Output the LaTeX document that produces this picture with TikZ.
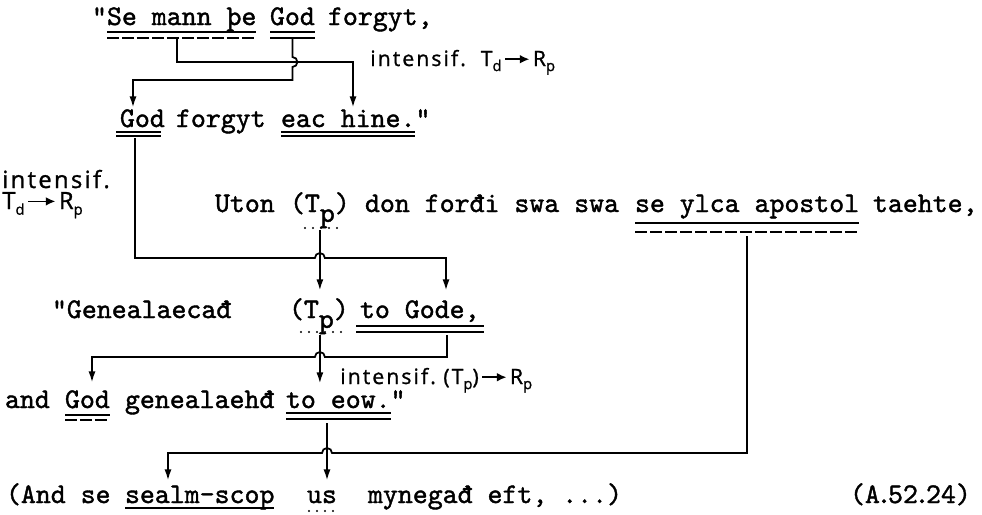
\documentclass[tikz,border=0pt]{standalone}
\usepackage{fontspec}
\newfontfamily\typefont{lmmono10-regular}[Extension=.otf, FakeBold=1.4]
\newfontfamily\handfont{Open Sans}[LetterSpace=10, FakeBold=1.2]
\usetikzlibrary{arrows.meta, calc}
\newcommand{\Tp}{(T\raisebox{-0.8ex}{p})}
\newcommand{\lowsub}[1]{\raisebox{-0.45ex}{\fontsize{8.5}{9}\selectfont #1}}
\newcommand{\harr}{\kern1.5pt\tikz[baseline=-0.6ex]\draw[line width=1pt,-{Latex[length=5.5pt,width=5pt]}] (0,0) -- (1.15em,0);\kern1.5pt}
\newcommand{\tdot}{\kern-0.12em.\kern-0.12em}

\begin{document}
\begin{tikzpicture}[
        x=0.02cm, y=-0.02cm,
        word/.style={font=\typefont\fontsize{16.2}{19}\selectfont, anchor=base west,
                     inner sep=0pt, outer sep=0pt, text height=10pt, text depth=3.5pt},
        hand/.style={font=\handfont\fontsize{12}{14}\selectfont, anchor=base west, inner sep=0pt},
        bighand/.style={hand, font=\handfont\fontsize{13.5}{15}\selectfont},
        arr/.style={line width=1pt, -{Latex[length=0.22cm,width=0.14cm]}},
        ul/.style={line width=0.8pt},
        uldash/.style={line width=0.8pt, dash pattern=on 0.24cm off 0.06cm},
        uldot/.style={line width=1.3pt, line cap=round, dash pattern=on 0pt off 0.16cm},
      ]
        \useasboundingbox (0,0) rectangle (982,514);

        % quoted sentence
        \node[word] (q1) at (92,25) {"};
        \node[word] (semann) at (107,25) {Se mann þe};
        \node[word] (god1) at (270,25) {God};
        \node[word] (forgyt1) at (328,25) {forgyt,};
        \node[word] (god2) at (120,127) {God};
        \node[word] (forgyt2) at (176,127) {forgyt};
        \node[word] (eachine) at (281,127) {eac hine.};
        \node[word] (q2) at (eachine.base east) {"};

        % main clause
        \node[word] (uton) at (215,212) {Uton};
        \node[word] (tp1) at (290,212) {\Tp};
        \node[word] (fordi) at (365,212) {don forđi swa swa};
        \node[word] (seylca) at (635,212) {se ylca apostol};
        \node[word] (taehte) at (873,212) {taehte,};

        % second quotation
        \node[word] (geneal) at (52,318) {"Genealaecađ};
        \node[word] (tp2) at (289,318) {\Tp};
        \node[word] (togode) at (360,318) {to Gode,};
        \node[word] (and5) at (5,408) {and};
        \node[word] (god5) at (65,408) {God};
        \node[word] (geneal5) at (125,408) {genealaehđ};
        \node[word] (toeow) at (286,408) {to eow.};
        \node[word] (q5) at (toeow.base east) {"};

        % last line
        \node[word] (andse) at (6,503) {(And se};
        \node[word] (sealm) at (125,503) {sealm-scop};
        \node[word] (us) at (307,503) {us};
        \node[word] (mynegad) at (368,503) {mynegađ eft, ...)};
        \node[word] (ref) at (850,503) {(A\tdot 52\tdot 24)};

        % handwritten notes
        \node[hand] (lbltop) at (370,66) {intensif.\hspace{0.3cm}T\lowsub{d}\harr R\lowsub{p}};
        \node[bighand] (lblleft) at (2,188) {intensif.};
        \node[bighand] (lblleft2) at (2,209) {T\lowsub{d}\harr R\lowsub{p}};
        \node[hand] (lbllow) at (340,384) {intensif.\hspace{0.15cm}(T\lowsub{p})\harr R\lowsub{p}};

        % underlines
        \draw[ul] ($(semann.base west)+(0,7)$) -- ($(semann.base east)+(0,7)$);
        \draw[uldash] ($(semann.base west)+(0,13)$) -- ($(semann.base east)+(0,13)$);
        \draw[ul] ($(god1.base west)+(0,7)$) -- ($(god1.base east)+(0,7)$);
        \draw[ul] ($(god1.base west)+(0,13)$) -- ($(god1.base east)+(0,13)$);
        \draw[ul] ($(god2.base west)+(-4,5)$) -- ($(god2.base east)+(-4,5)$);
        \draw[ul] ($(god2.base west)+(-4,9)$) -- ($(god2.base east)+(-4,9)$);
        \draw[ul] ($(eachine.base west)+(0,5)$) -- ($(eachine.base east)+(0,5)$);
        \draw[ul] ($(eachine.base west)+(0,9)$) -- ($(eachine.base east)+(0,9)$);
        \draw[uldot] ($(tp1.base west)+(15,16)$) -- ($(tp1.base east)+(-5,16)$);
        \draw[ul] ($(seylca.base west)+(0,11)$) -- ($(seylca.base east)+(0,11)$);
        \draw[uldash] ($(seylca.base west)+(0,20)$) -- ($(seylca.base east)+(0,20)$);
        \draw[uldot] ($(tp2.base west)+(12,14)$) -- ($(tp2.base east)+(-6,14)$);
        \draw[ul] ($(togode.base west)+(-4,8)$) -- ($(togode.base east)+(4,8)$);
        \draw[ul] ($(togode.base west)+(-4,14)$) -- ($(togode.base east)+(4,14)$);
        \draw[ul] ($(god5.base west)+(0,7)$) -- ($(god5.base east)+(0,7)$);
        \draw[uldash] ($(god5.base west)+(0,12)$) -- ($(god5.base east)+(0,12)$);
        \draw[ul] ($(toeow.base west)+(0,5)$) -- ($(toeow.base east)+(0,5)$);
        \draw[ul] ($(toeow.base west)+(0,11)$) -- ($(toeow.base east)+(0,11)$);
        \draw[ul] ($(sealm.base west)+(0,5)$) -- ($(sealm.base east)+(0,5)$);
        \draw[uldot] ($(us.base west)+(2,8)$) -- ($(us.base east)+(0,8)$);

        % connectors
        \draw[arr] ($(semann.base west)+(70,14)$) -- ($(semann.base west)+(70,37)$)
            -| ($(eachine.north west)+(72,-2)$);
        \draw[arr] ($(god1.base)+(0,14)$) -- ($(god1.base)+(0,32)$)
            arc[start angle=90, end angle=-90, radius=0.1cm]
            -- ($(god1.base)+(0,55)$) -| ($(god2.north west)+(13,-2)$);
        \draw[arr] ($(god2.base west)+(15,11)$) |- ($(tp1.base)+(-5,46)$)
            arc[start angle=180, end angle=0, radius=0.1cm]
            -| ($(togode.north west)+(86,-10)$);
        \draw[arr] ($(tp1.base)+(0,18)$) -- ($(tp1.base |- tp2.north)+(0,-10)$);
        \draw[arr] ($(tp1.base |- tp2.base)+(0,17)$) -- ($(tp1.base |- toeow.north)+(0,-7)$);
        \draw[arr] ($(togode.base west)+(87,17)$) |- ($(tp1.base |- tp2.base)+(5,39)$)
            arc[start angle=0, end angle=180, radius=0.1cm]
            -| ($(god5.north west)+(27,-8)$);
        \draw[arr] ($(seylca.base)+(0,24)$) |- ($(toeow.base west)+(46,45)$)
            arc[start angle=0, end angle=180, radius=0.1cm]
            -| ($(sealm.north west)+(43,-5)$);
        \draw[arr] ($(toeow.base west)+(41,15)$) -- ($(toeow.base west |- us.north)+(41,-5)$);
      \end{tikzpicture}
\end{document}
